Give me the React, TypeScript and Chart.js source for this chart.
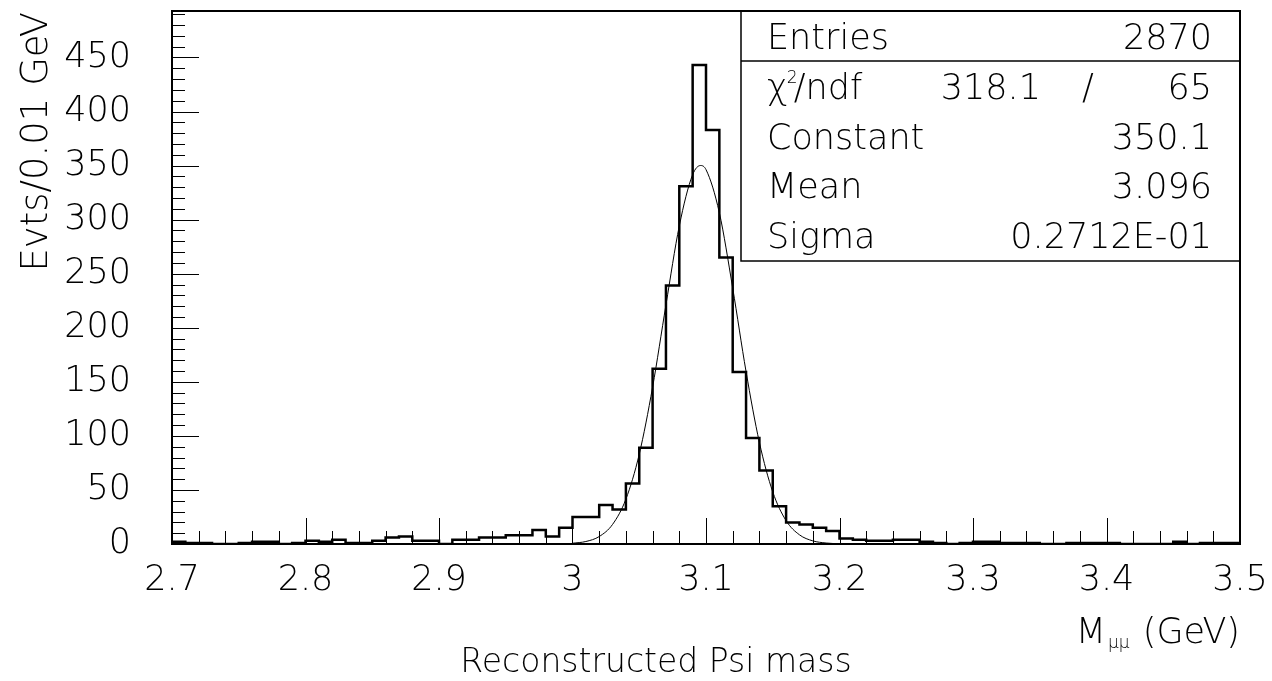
import React, { useEffect, useRef } from "react";
import { Chart, registerables } from "chart.js";

Chart.register(...registerables);

// ---- data ----
const binLow = 2.7;
const binWidth = 0.01;
const counts = [
  2, 1, 1, 0, 0, 1, 2, 2, 0, 1,
  3, 2, 4, 1, 1, 3, 6, 7, 3, 3,
  0, 4, 4, 6, 6, 8, 8, 13, 7, 15,
  25, 25, 36, 32, 56, 89, 162, 239, 331, 443,
  383, 265, 159, 98, 68, 35, 20, 18, 15, 12,
  5, 4, 3, 3, 4, 4, 2, 1, 0, 1,
  2, 2, 1, 1, 1, 0, 0, 1, 1, 1,
  1, 0, 0, 0, 0, 2, 0, 1, 1, 1,
];
const fitX = [3.0, 3.01, 3.02, 3.03, 3.04, 3.05, 3.06, 3.07, 3.08, 3.09, 3.096, 3.1, 3.11, 3.12, 3.13, 3.14, 3.15, 3.16, 3.17, 3.18, 3.19, 3.2];
const fitY = [0.7, 2.3, 6.9, 18.1, 41.5, 83.1, 145.1, 221.1, 294.2, 341.6, 350.1, 346.3, 306.4, 236.7, 159.5, 93.9, 48.2, 21.6, 8.5, 2.9, 0.9, 0.2];
const xTickValues = [2.7, 2.8, 2.9, 3.0, 3.1, 3.2, 3.3, 3.4, 3.5];
const yTickValues = [0, 50, 100, 150, 200, 250, 300, 350, 400, 450];
const yMax = 493;
const statsLabels = ["Entries", "χ2/ndf", "Constant", "Mean", "Sigma"];
const statsValues = ["2870", "318.1 / 65", "350.1", "3.096", "0.2712E-01"];
const yTitle = "Evts/0.01 GeV";
const xTitle = "M_μμ (GeV)";
const subTitle = "Reconstructed Psi mass";

const FONT = '"DejaVu Sans", sans-serif';
const W = "200";

const pawPlugin = {
  id: "paw",
  afterDatasetsDraw(chart: any) {
    const { ctx, chartArea: a, scales } = chart;
    const x = scales.x;
    const y = scales.y;
    ctx.save();
    // inner ticks
    ctx.strokeStyle = "#000";
    ctx.lineWidth = 1;
    for (let k = 0; k <= 40; k++) {
      const v = binLow + k * 0.02;
      const px = Math.round(x.getPixelForValue(v)) + 0.5;
      const len = k % 5 === 0 ? 26 : 13;
      ctx.beginPath();
      ctx.moveTo(px, a.bottom);
      ctx.lineTo(px, a.bottom - len);
      ctx.stroke();
    }
    for (let k = 0; k <= 49; k++) {
      const v = k * 10;
      const py = Math.round(y.getPixelForValue(v)) + 0.5;
      const len = k % 5 === 0 ? 27 : 13;
      ctx.beginPath();
      ctx.moveTo(a.left, py);
      ctx.lineTo(a.left + len, py);
      ctx.stroke();
    }
    // stats box
    const bl = 741, bt = a.top, br = a.right, bb = 261;
    ctx.fillStyle = "#fff";
    ctx.fillRect(bl, bt, br - bl, bb - bt);
    ctx.lineWidth = 1.5;
    ctx.strokeRect(bl, bt, br - bl, bb - bt);
    ctx.beginPath();
    ctx.moveTo(bl, 61);
    ctx.lineTo(br, 61);
    ctx.stroke();
    ctx.fillStyle = "#000";
    const big = `${W} 35px ${FONT}`;
    ctx.font = big;
    ctx.textBaseline = "middle";
    const rows = [40, 90, 140, 189, 239];
    statsLabels.forEach((lab, i) => {
      const cy = rows[i];
      ctx.textAlign = "left";
      if (lab.startsWith("χ")) {
        ctx.fillText("χ", 767, cy);
        const w = ctx.measureText("χ").width;
        ctx.font = `${W} 17px ${FONT}`;
        ctx.fillText("2", 767 + w - 1, cy - 11);
        ctx.font = big;
        ctx.fillText("/ndf", 767 + w + 6, cy);
        const parts = statsValues[i].split(" ");
        ctx.textAlign = "right";
        ctx.fillText(parts[0], 1041, cy);
        ctx.textAlign = "center";
        ctx.fillText(parts[1], 1088, cy);
        ctx.textAlign = "right";
        ctx.fillText(parts[2], 1212, cy);
      } else {
        ctx.fillText(lab, 767, cy);
        ctx.textAlign = "right";
        ctx.fillText(statsValues[i], 1212, cy);
      }
    });
    // frame
    ctx.lineWidth = 2;
    ctx.strokeRect(a.left, a.top, a.right - a.left, a.bottom - a.top);
    // titles
    ctx.font = `${W} 37px ${FONT}`;
    ctx.save();
    ctx.translate(37, 12);
    ctx.rotate(-Math.PI / 2);
    ctx.textAlign = "right";
    ctx.textBaseline = "middle";
    ctx.fillText(yTitle, 0, 0);
    ctx.restore();
    // x title with subscript
    const [mPart, rest] = xTitle.split("_");
    const sub = rest.split(" ")[0];
    const tail = " " + rest.split(" ").slice(1).join(" ");
    const mid = `${W} 35px ${FONT}`;
    const small = `${W} 17px ${FONT}`;
    ctx.textBaseline = "alphabetic";
    ctx.textAlign = "left";
    ctx.font = mid;
    const wTail = ctx.measureText(tail).width;
    const wM = ctx.measureText(mPart).width;
    ctx.font = small;
    const wSub = ctx.measureText(sub).width;
    const base = 643;
    let cx = a.right - wTail - wSub - wM - 4;
    ctx.font = mid;
    ctx.fillText(mPart, cx, base);
    cx += wM + 2;
    ctx.font = small;
    ctx.fillText(sub, cx, base + 5);
    cx += wSub + 2;
    ctx.font = mid;
    ctx.fillText(tail, cx, base);
    ctx.font = `${W} 33px ${FONT}`;
    ctx.textAlign = "center";
    ctx.fillText(subTitle, 656, 672);
    ctx.restore();
  },
};

const zeroPad = (s: any) => {
  s.paddingTop = 0;
  s.paddingBottom = 0;
  s.paddingLeft = 0;
  s.paddingRight = 0;
};

export default function App() {
  const ref = useRef<HTMLCanvasElement>(null);
  useEffect(() => {
    if (!ref.current) return;
    const histData = counts.map((c, i) => ({ x: binLow + i * binWidth, y: c }));
    histData.push({ x: binLow + counts.length * binWidth, y: counts[counts.length - 1] });
    const fitData = fitX.map((v, i) => ({ x: v, y: fitY[i] }));
    const chart = new Chart(ref.current, {
      type: "line",
      data: {
        datasets: [
          {
            data: histData,
            stepped: "before",
            borderColor: "#000",
            borderWidth: 2.5,
            pointRadius: 0,
            fill: false,
          },
          {
            data: fitData,
            borderColor: "#000",
            borderWidth: 1,
            pointRadius: 0,
            cubicInterpolationMode: "monotone",
            fill: false,
          },
        ],
      },
      options: {
        animation: false,
        responsive: false,
        events: [],
        layout: { padding: { left: 0, right: 32, top: 11, bottom: 0 } },
        plugins: { legend: { display: false }, tooltip: { enabled: false } },
        scales: {
          x: {
            type: "linear",
            min: 2.7,
            max: 3.5,
            grid: { display: false, drawTicks: false },
            border: { display: false },
            afterBuildTicks: (s: any) => {
              s.ticks = xTickValues.map((v) => ({ value: v }));
            },
            afterFit: (s: any) => {
              s.height = 137;
              zeroPad(s);
            },
            ticks: {
              color: "#000",
              padding: 16,
              maxRotation: 0,
              autoSkip: false,
              font: { family: FONT, size: 35, weight: W },
              callback: (v: any) => String(Number(Number(v).toFixed(1))),
            },
          },
          y: {
            type: "linear",
            min: 0,
            max: yMax,
            grid: { display: false, drawTicks: false },
            border: { display: false },
            afterBuildTicks: (s: any) => {
              s.ticks = yTickValues.map((v) => ({ value: v }));
            },
            afterFit: (s: any) => {
              s.width = 172;
              zeroPad(s);
            },
            ticks: {
              color: "#000",
              padding: 41,
              autoSkip: false,
              font: { family: FONT, size: 35, weight: W },
            },
          },
        },
      },
      plugins: [pawPlugin],
    });
    return () => chart.destroy();
  }, []);
  return (
    <div style={{ position: "fixed", left: 0, top: 0, width: 1272, height: 681, background: "#fff" }}>
      <canvas ref={ref} width={1272} height={681} />
    </div>
  );
}
